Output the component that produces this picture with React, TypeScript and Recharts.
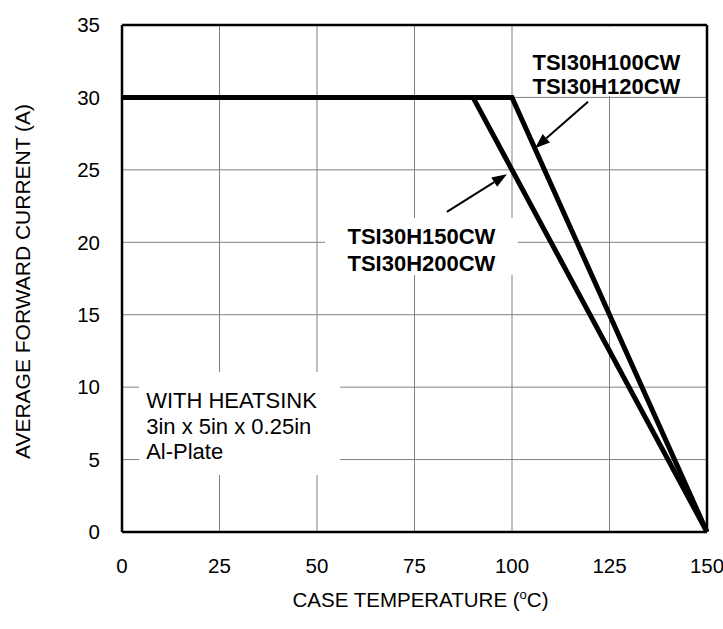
import {
  CartesianGrid,
  Line,
  LineChart,
  ReferenceArea,
  ReferenceLine,
  XAxis,
  YAxis,
} from "recharts";

// axis ticks
const temperatureTicks = [0, 25, 50, 75, 100, 125, 150];
const currentTicks = [0, 5, 10, 15, 20, 25, 30, 35];

// TSI30H100CW / TSI30H120CW derating curve
const lowVoltTemp = [0, 100, 150];
const lowVoltCurrent = [30, 30, 0];

// TSI30H150CW / TSI30H200CW derating curve
const highVoltTemp = [0, 90, 150];
const highVoltCurrent = [30, 30, 0];

const lowVoltNames = ["TSI30H100CW", "TSI30H120CW"];
const highVoltNames = ["TSI30H150CW", "TSI30H200CW"];
const heatsinkNote = ["WITH HEATSINK", "3in x 5in x 0.25in", "Al-Plate"];

const FONT = '"Liberation Sans", Arial, sans-serif';

const lowVoltData = lowVoltTemp.map((t, i) => ({ temp: t, current: lowVoltCurrent[i] }));
const highVoltData = highVoltTemp.map((t, i) => ({ temp: t, current: highVoltCurrent[i] }));

// text block drawn inside a white ReferenceArea (so the grid is hidden behind it)
function noteText(
  lines: string[],
  anchor: "start" | "middle",
  bold: boolean,
  firstBaseline: number,
  lineGap: number,
  shiftX = 0
) {
  return (props: any) => {
    const { x, y, width } = props.viewBox;
    const tx = (anchor === "middle" ? x + width / 2 : x + 7) + shiftX;
    return (
      <text
        x={tx}
        y={y + firstBaseline}
        textAnchor={anchor}
        fontFamily={FONT}
        fontSize={22}
        fontWeight={bold ? 700 : 400}
        fill="#000"
      >
        {lines.map((l, i) => (
          <tspan key={l} x={tx} dy={i === 0 ? 0 : lineGap}>
            {l}
          </tspan>
        ))}
      </text>
    );
  };
}

function Arrow(props: any) {
  const { x1, y1, x2, y2 } = props;
  const ang = Math.atan2(y2 - y1, x2 - x1);
  const len = 15;
  const half = 5.5;
  const bx = x2 - len * Math.cos(ang);
  const by = y2 - len * Math.sin(ang);
  const px = -Math.sin(ang) * half;
  const py = Math.cos(ang) * half;
  return (
    <g>
      <line x1={x1} y1={y1} x2={bx} y2={by} stroke="#000" strokeWidth={2} />
      <polygon
        points={`${x2},${y2} ${bx + px},${by + py} ${bx - px},${by - py}`}
        fill="#000"
      />
    </g>
  );
}

function XTitle(props: any) {
  const { x, y, width } = props.viewBox;
  const cx = x + width / 2 + 6;
  return (
    <text x={cx} y={y + 75} textAnchor="middle" fontFamily={FONT} fontSize={20.5} fill="#000">
      CASE TEMPERATURE (
      <tspan fontSize={13} dy={-8}>
        o
      </tspan>
      <tspan dy={8}>C)</tspan>
    </text>
  );
}

function YTitle(props: any) {
  const { y, height } = props.viewBox;
  const cx = 22;
  const cy = y + height / 2 + 3;
  return (
    <text
      x={cx}
      y={cy}
      transform={`rotate(-90 ${cx} ${cy})`}
      textAnchor="middle"
      dominantBaseline="central"
      fontFamily={FONT}
      fontSize={21}
      fill="#000"
    >
      AVERAGE FORWARD CURRENT (A)
    </text>
  );
}

export default function App() {
  const tick = { fill: "#000", fontSize: 20.5, fontFamily: FONT };
  return (
    <div style={{ position: "absolute", left: 0, top: 0, background: "#fff" }}>
      <LineChart
        width={723}
        height={629}
        margin={{ top: 25, right: 16, left: 0, bottom: 0 }}
        style={{ fontFamily: FONT }}
      >
        <CartesianGrid stroke="#808080" strokeWidth={1} />
        <XAxis
          dataKey="temp"
          type="number"
          domain={[0, 150]}
          ticks={temperatureTicks}
          interval={0}
          height={97}
          tick={tick}
          tickLine={false}
          tickSize={8}
          tickMargin={18}
          axisLine={{ stroke: "#000", strokeWidth: 2.5 }}
          label={XTitle}
        />
        <YAxis
          type="number"
          domain={[0, 35]}
          ticks={currentTicks}
          interval={0}
          width={122}
          tick={tick}
          tickLine={false}
          tickSize={8}
          tickMargin={14}
          axisLine={{ stroke: "#000", strokeWidth: 2.5 }}
          label={YTitle}
        />
        {/* white label boxes */}
        <ReferenceArea
          x1={4.4}
          x2={55.9}
          y1={3.93}
          y2={11.04}
          fill="#fff"
          fillOpacity={1}
          stroke="none"
          label={noteText(heatsinkNote, "start", false, 36, 25.5)}
        />
        <ReferenceArea
          x1={52.05}
          x2={101.5}
          y1={17.74}
          y2={21.68}
          fill="#fff"
          fillOpacity={1}
          stroke="none"
          label={noteText(highVoltNames, "middle", true, 26, 27)}
        />
        <ReferenceArea
          x1={103.3}
          x2={148.2}
          y1={30.1}
          y2={34.9}
          fill="#fff"
          fillOpacity={1}
          stroke="none"
          label={noteText(lowVoltNames, "middle", true, 44, 24, -6)}
        />
        <Line
          data={highVoltData}
          dataKey="current"
          type="linear"
          stroke="#000"
          strokeWidth={5}
          strokeLinejoin="miter"
          dot={false}
          activeDot={false}
          isAnimationActive={false}
        />
        <Line
          data={lowVoltData}
          dataKey="current"
          type="linear"
          stroke="#000"
          strokeWidth={5}
          strokeLinejoin="miter"
          dot={false}
          activeDot={false}
          isAnimationActive={false}
        />
        {/* frame top / right */}
        <ReferenceLine y={35} stroke="#000" strokeWidth={2.5} />
        <ReferenceLine x={150} stroke="#000" strokeWidth={2.5} />
        {/* pointer arrows */}
        <ReferenceLine
          segment={[
            { x: 119.5, y: 29.7 },
            { x: 105.9, y: 26.5 },
          ]}
          shape={Arrow}
        />
        <ReferenceLine
          segment={[
            { x: 83.3, y: 22.1 },
            { x: 98.7, y: 24.7 },
          ]}
          shape={Arrow}
        />
      </LineChart>
    </div>
  );
}
